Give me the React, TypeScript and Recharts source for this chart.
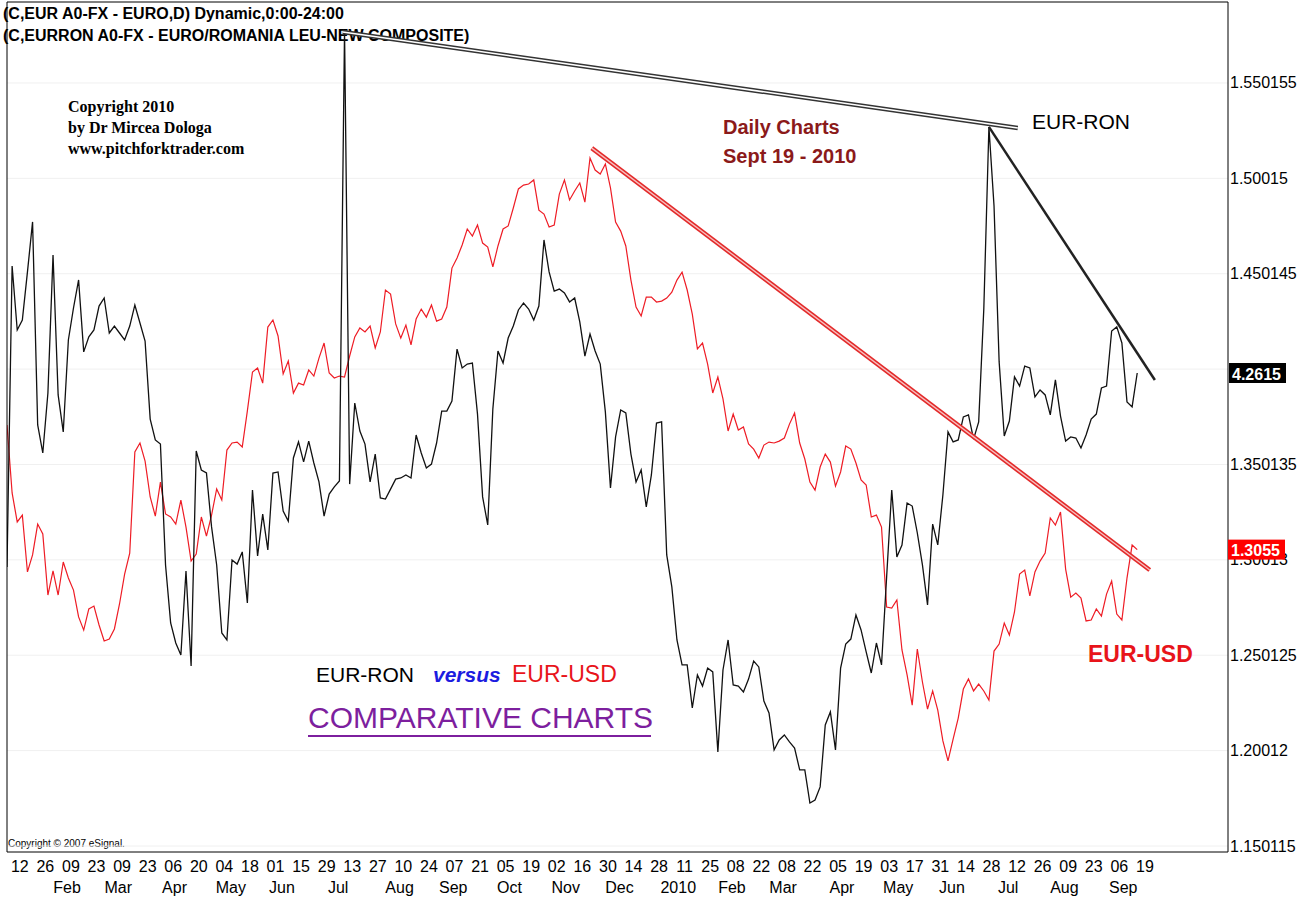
import { ComposedChart, Line, XAxis, YAxis, CartesianGrid, ReferenceLine } from 'recharts';

const SANS = '"Liberation Sans", Arial, sans-serif';
const SERIF = '"Liberation Serif", "Times New Roman", serif';

// one sample every STEP trading days, day 0 = Mon 5 Jan 2009
const STEP = 2;

const dayLabels = [
  '12', '26', '09', '23', '09', '23', '06', '20', '04', '18', '01', '15', '29', '13', '27',
  '10', '24', '07', '21', '05', '19', '02', '16', '30', '14', '28', '11', '25', '08', '22',
  '08', '22', '05', '19', '03', '17', '31', '14', '28', '12', '26', '09', '23', '06', '19',
];
const monthNames = [
  'Feb', 'Mar', 'Apr', 'May', 'Jun', 'Jul', 'Aug', 'Sep', 'Oct', 'Nov', 'Dec',
  '2010', 'Feb', 'Mar', 'Apr', 'May', 'Jun', 'Jul', 'Aug', 'Sep',
];
// trading-day index of the first session of each month
const monthStarts = [20, 40, 62, 84, 104, 126, 150, 171, 193, 215, 236, 259, 280, 300, 323, 345, 366, 388, 410, 433];
// 1.40014 sits under the EUR-RON price tag, so it only gets a grid line
const usdTicks = [1.150115, 1.20012, 1.250125, 1.30013, 1.350135, 1.450145, 1.50015, 1.550155];
const usdGrid = [1.150115, 1.20012, 1.250125, 1.30013, 1.350135, 1.40014, 1.450145, 1.50015, 1.550155];

const eurUsd = [
  1.3708, 1.3352, 1.3200, 1.3236, 1.2938, 1.3027, 1.3189, 1.3137, 1.2817, 1.2943,
  1.2817, 1.2990, 1.2906, 1.2843, 1.2702, 1.2633, 1.2744, 1.2759, 1.2660, 1.2576,
  1.2586, 1.2639, 1.2770, 1.2927, 1.3037, 1.3567, 1.3614, 1.3519, 1.3331, 1.3231,
  1.3409, 1.3242, 1.3226, 1.3189, 1.3315, 1.3173, 1.2995, 1.3032, 1.3226, 1.3126,
  1.3236, 1.3373, 1.3315, 1.3577, 1.3614, 1.3619, 1.3593, 1.3782, 1.3986, 1.4007,
  1.3928, 1.4222, 1.4259, 1.4175, 1.3976, 1.4044, 1.3876, 1.3928, 1.3918, 1.3997,
  1.3965, 1.4059, 1.4138, 1.3981, 1.3955, 1.3965, 1.3960, 1.4070, 1.4170, 1.4217,
  1.4196, 1.4227, 1.4112, 1.4196, 1.4416, 1.4395, 1.4238, 1.4164, 1.4232, 1.4128,
  1.4264, 1.4316, 1.4274, 1.4337, 1.4253, 1.4264, 1.4327, 1.4531, 1.4584, 1.4652,
  1.4736, 1.4699, 1.4757, 1.4662, 1.4641, 1.4537, 1.4647, 1.4736, 1.4752, 1.4846,
  1.4946, 1.4966, 1.4972, 1.4993, 1.4835, 1.4814, 1.4746, 1.4757, 1.4919, 1.4993,
  1.4888, 1.4935, 1.4977, 1.4877, 1.5108, 1.5045, 1.5024, 1.5077, 1.4951, 1.4772,
  1.4725, 1.4647, 1.4468, 1.4327, 1.4280, 1.4379, 1.4379, 1.4353, 1.4358, 1.4374,
  1.4405, 1.4468, 1.4510, 1.4416, 1.4290, 1.4107, 1.4138, 1.4028, 1.3876, 1.3960,
  1.3845, 1.3677, 1.3766, 1.3682, 1.3698, 1.3609, 1.3582, 1.3535, 1.3603, 1.3619,
  1.3614, 1.3624, 1.3640, 1.3713, 1.3771, 1.3614, 1.3530, 1.3409, 1.3367, 1.3488,
  1.3556, 1.3514, 1.3388, 1.3462, 1.3598, 1.3582, 1.3509, 1.3420, 1.3394, 1.3226,
  1.3236, 1.3173, 1.2754, 1.2749, 1.2791, 1.2529, 1.2398, 1.2240, 1.2534, 1.2361,
  1.2219, 1.2314, 1.2214, 1.2052, 1.1947, 1.2062, 1.2172, 1.2324, 1.2377, 1.2314,
  1.2350, 1.2314, 1.2266, 1.2523, 1.2560, 1.2670, 1.2607, 1.2728, 1.2927, 1.2948,
  1.2812, 1.2938, 1.2995, 1.3037, 1.3221, 1.3184, 1.3252, 1.2953, 1.2806, 1.2827,
  1.2801, 1.2681, 1.2686, 1.2744, 1.2707, 1.2822, 1.2890, 1.2717, 1.2686, 1.2906,
  1.3079, 1.3055,
];

const eurRon = [
  4.1723, 4.3107, 4.2813, 4.2859, 4.3080, 4.3310, 4.2376, 4.2247, 4.2523, 4.3158,
  4.2514, 4.2344, 4.2767, 4.2914, 4.3043, 4.2712, 4.2781, 4.2813, 4.2923, 4.2960,
  4.2799, 4.2831, 4.2799, 4.2767, 4.2831, 4.2928, 4.2845, 4.2762, 4.2403, 4.2307,
  4.2288, 4.1732, 4.1465, 4.1373, 4.1318, 4.1704, 4.1267, 4.2256, 4.2169, 4.2155,
  4.1907, 4.1732, 4.1419, 4.1387, 4.1755, 4.1736, 4.1792, 4.1557, 4.2077, 4.1773,
  4.1966, 4.1801, 4.2155, 4.2160, 4.1980, 4.1934, 4.2224, 4.2298, 4.2206, 4.2302,
  4.2201, 4.2114, 4.1957, 4.2058, 4.2091, 4.2118, 4.4193, 4.2104, 4.2477, 4.2348,
  4.2288, 4.2114, 4.2242, 4.2040, 4.2035, 4.2081, 4.2127, 4.2132, 4.2146, 4.2132,
  4.2330, 4.2247, 4.2178, 4.2196, 4.2293, 4.2440, 4.2440, 4.2486, 4.2725, 4.2638,
  4.2656, 4.2661, 4.2426, 4.2045, 4.1916, 4.2449, 4.2716, 4.2661, 4.2776, 4.2831,
  4.2905, 4.2937, 4.2909, 4.2859, 4.2923, 4.3227, 4.3080, 4.2992, 4.3001, 4.2983,
  4.2942, 4.2960, 4.2850, 4.2693, 4.2794, 4.2716, 4.2656, 4.2436, 4.2086, 4.2321,
  4.2445, 4.2431, 4.2242, 4.2114, 4.2169, 4.1999, 4.2146, 4.2385, 4.2390, 4.1778,
  4.1631, 4.1387, 4.1272, 4.1272, 4.1074, 4.1226, 4.1175, 4.1258, 4.1240, 4.0872,
  4.1249, 4.1387, 4.1180, 4.1175, 4.1148, 4.1207, 4.1290, 4.1263, 4.1106, 4.1051,
  4.0881, 4.0927, 4.0950, 4.0918, 4.0890, 4.0789, 4.0789, 4.0637, 4.0651, 4.0711,
  4.0996, 4.1056, 4.0881, 4.1258, 4.1368, 4.1391, 4.1502, 4.1433, 4.1332, 4.1235,
  4.1373, 4.1272, 4.1677, 4.2077, 4.1769, 4.1824, 4.2017, 4.2003, 4.1879, 4.1732,
  4.1548, 4.1920, 4.1824, 4.2054, 4.2344, 4.2298, 4.2307, 4.2413, 4.2422, 4.2311,
  4.2390, 4.2909, 4.3747, 4.3383, 4.2666, 4.2325, 4.2394, 4.2597, 4.2555, 4.2647,
  4.2638, 4.2505, 4.2537, 4.2514, 4.2422, 4.2583, 4.2417, 4.2302, 4.2321, 4.2316,
  4.2270, 4.2330, 4.2403, 4.2426, 4.2546, 4.2555, 4.2808, 4.2827, 4.2753, 4.2482,
  4.2459, 4.2615,
];

// hand drawn trend lines (trading-day index, price)
const ronTopLine = [{ x: 131.3, y: 4.4184 }, { x: 395.3, y: 4.3742 }];
const ronDownLine = [{ x: 384, y: 4.3747 }, { x: 448.9, y: 4.2583 }];
const usdDownLine = [{ x: 228.7, y: 1.516 }, { x: 446.9, y: 1.2948 }];

const data = eurUsd.map((usd, k) => ({ day: k * STEP, usd, ron: eurRon[k] }));
const dayTicks = dayLabels.map((_, j) => 5 + j * 10);
const xDomain = [0, 477.5];
const usdDomain = [1.14697, 1.5926];
const ronDomain = [4.04116, 4.43216];
const lastUsd = eurUsd[eurUsd.length - 1];
const lastRon = eurRon[eurRon.length - 1];

function DayTick({ x, y, payload }: any) {
  const j = dayTicks.indexOf(payload.value);
  return (
    <text x={x} y={y + 14} textAnchor="middle" dominantBaseline="central" fontSize={16} fontFamily={SANS} fill="#000">
      {dayLabels[j]}
    </text>
  );
}

function MonthTick({ x, y, payload }: any) {
  const j = monthStarts.indexOf(payload.value);
  return (
    <text x={x + 9} y={y + 13} textAnchor="middle" dominantBaseline="central" fontSize={16} fontFamily={SANS} fill="#000">
      {monthNames[j]}
    </text>
  );
}

function Tag({ x, y, text, color }: any) {
  return (
    <g>
      <rect x={x} y={y - 10} width={57} height={20} fill={color} />
      <text x={x + 3} y={y + 1} dominantBaseline="central" fontSize={16} fontWeight="bold" fontFamily={SANS} fill="#fff">
        {text}
      </text>
    </g>
  );
}

// last EUR-USD value is an extra tick, drawn last so its tag covers the 1.30013 label
function UsdTick({ x, y, payload }: any) {
  if (payload.value === lastUsd) return <Tag x={x - 2} y={y} text={lastUsd.toFixed(4)} color="#f00" />;
  return (
    <text x={x} y={y} dominantBaseline="central" fontSize={16} fontFamily={SANS} fill="#000">
      {String(payload.value)}
    </text>
  );
}

function RonTag({ viewBox }: any) {
  return <Tag x={viewBox.x + viewBox.width + 1} y={viewBox.y} text={lastRon.toFixed(4)} color="#000" />;
}

export default function App() {
  return (
    <div style={{ position: 'fixed', left: 0, top: 0, width: 1312, height: 898, background: '#fff' }}>
      <svg width={1312} height={898} style={{ position: 'absolute', left: 0, top: 0 }} fontFamily={SANS}>
        <text x={3} y={13} fontSize={16} fontWeight="bold" dominantBaseline="central">
          (C,EUR A0-FX - EURO,D) Dynamic,0:00-24:00
        </text>
        <text x={3} y={35} fontSize={16} fontWeight="bold" dominantBaseline="central">
          (C,EURRON A0-FX - EURO/ROMANIA LEU-NEW COMPOSITE)
        </text>
        <g fontFamily={SERIF} fontWeight="bold" fontSize={16}>
          <text x={68} y={106} dominantBaseline="central">Copyright 2010</text>
          <text x={68} y={127} dominantBaseline="central">by Dr Mircea Dologa</text>
          <text x={68} y={148} dominantBaseline="central">www.pitchforktrader.com</text>
        </g>
        <g fill="#8b1a1a" fontWeight="bold" fontSize={20}>
          <text x={723} y={127} dominantBaseline="central">Daily Charts</text>
          <text x={723} y={156} dominantBaseline="central">Sept 19 - 2010</text>
        </g>
        <text x={1032} y={121} fontSize={21} dominantBaseline="central">EUR-RON</text>
        <text x={316} y={674} fontSize={21} dominantBaseline="central">EUR-RON</text>
        <text x={433} y={674} fontSize={21} fontWeight="bold" fontStyle="italic" fill="#1c1ce0" dominantBaseline="central">versus</text>
        <text x={512} y={674} fontSize={23} fill="#e8141a" dominantBaseline="central">EUR-USD</text>
        <text x={308} y={717} fontSize={30} fill="#7d1f9e" dominantBaseline="central">COMPARATIVE CHARTS</text>
        <line x1={308} x2={651} y1={736} y2={736} stroke="#7d1f9e" strokeWidth={2} />
        <text x={8} y={843} fontSize={10} dominantBaseline="central">Copyright © 2007 eSignal.</text>
      </svg>
      <div style={{ position: 'absolute', left: 0, top: 0 }}>
        <ComposedChart width={1312} height={898} data={data} margin={{ top: 2, right: 0, bottom: 0, left: 6 }}>
          <CartesianGrid
            xAxisId="day"
            yAxisId="usd"
            vertical={false}
            horizontalValues={usdGrid}
            stroke="#f0f0f0"
          />
          <XAxis
            xAxisId="day"
            dataKey="day"
            type="number"
            domain={xDomain}
            allowDataOverflow
            ticks={dayTicks}
            interval={0}
            height={22}
            tickSize={0}
            tickMargin={0}
            tickLine={false}
            axisLine={{ stroke: '#000' }}
            tick={<DayTick />}
          />
          <XAxis
            xAxisId="month"
            dataKey="day"
            type="number"
            domain={xDomain}
            allowDataOverflow
            ticks={monthStarts}
            interval={0}
            height={24}
            tickSize={0}
            tickMargin={0}
            tickLine={false}
            axisLine={false}
            tick={<MonthTick />}
          />
          <YAxis
            yAxisId="usd"
            orientation="right"
            domain={usdDomain}
            allowDataOverflow
            ticks={[...usdTicks, lastUsd]}
            interval={0}
            width={84}
            tickSize={0}
            tickMargin={2}
            tickLine={false}
            axisLine={{ stroke: '#000' }}
            tick={<UsdTick />}
          />
          <YAxis
            yAxisId="ron"
            orientation="left"
            domain={ronDomain}
            allowDataOverflow
            width={1}
            tick={false}
            tickLine={false}
            axisLine={{ stroke: '#000' }}
          />
          <ReferenceLine xAxisId="day" yAxisId="usd" y={usdDomain[1]} stroke="#000" />
          <Line
            xAxisId="day"
            yAxisId="usd"
            dataKey="usd"
            type="linear"
            stroke="#ee1c25"
            strokeWidth={1.2}
            dot={false}
            isAnimationActive={false}
          />
          <Line
            xAxisId="day"
            yAxisId="ron"
            dataKey="ron"
            type="linear"
            stroke="#111"
            strokeWidth={1.3}
            dot={false}
            isAnimationActive={false}
          />
          <ReferenceLine xAxisId="day" yAxisId="ron" segment={ronTopLine} stroke="#333" strokeWidth={4.5} />
          <ReferenceLine xAxisId="day" yAxisId="ron" segment={ronTopLine} stroke="#fff" strokeWidth={1.5} />
          <ReferenceLine xAxisId="day" yAxisId="ron" segment={ronDownLine} stroke="#222" strokeWidth={2.5} />
          <ReferenceLine xAxisId="day" yAxisId="usd" segment={usdDownLine} stroke="#e32a2a" strokeWidth={4.5} />
          <ReferenceLine xAxisId="day" yAxisId="usd" segment={usdDownLine} stroke="#f7c0c0" strokeWidth={1.3} />
          <ReferenceLine xAxisId="day" yAxisId="ron" y={lastRon} stroke="none" label={<RonTag />} />
        </ComposedChart>
      </div>
      <svg width={1312} height={898} style={{ position: 'absolute', left: 0, top: 0, pointerEvents: 'none' }} fontFamily={SANS}>
        <text x={1088} y={654} fontSize={23} fontWeight="bold" fill="#e8141a" dominantBaseline="central">EUR-USD</text>
      </svg>
    </div>
  );
}
